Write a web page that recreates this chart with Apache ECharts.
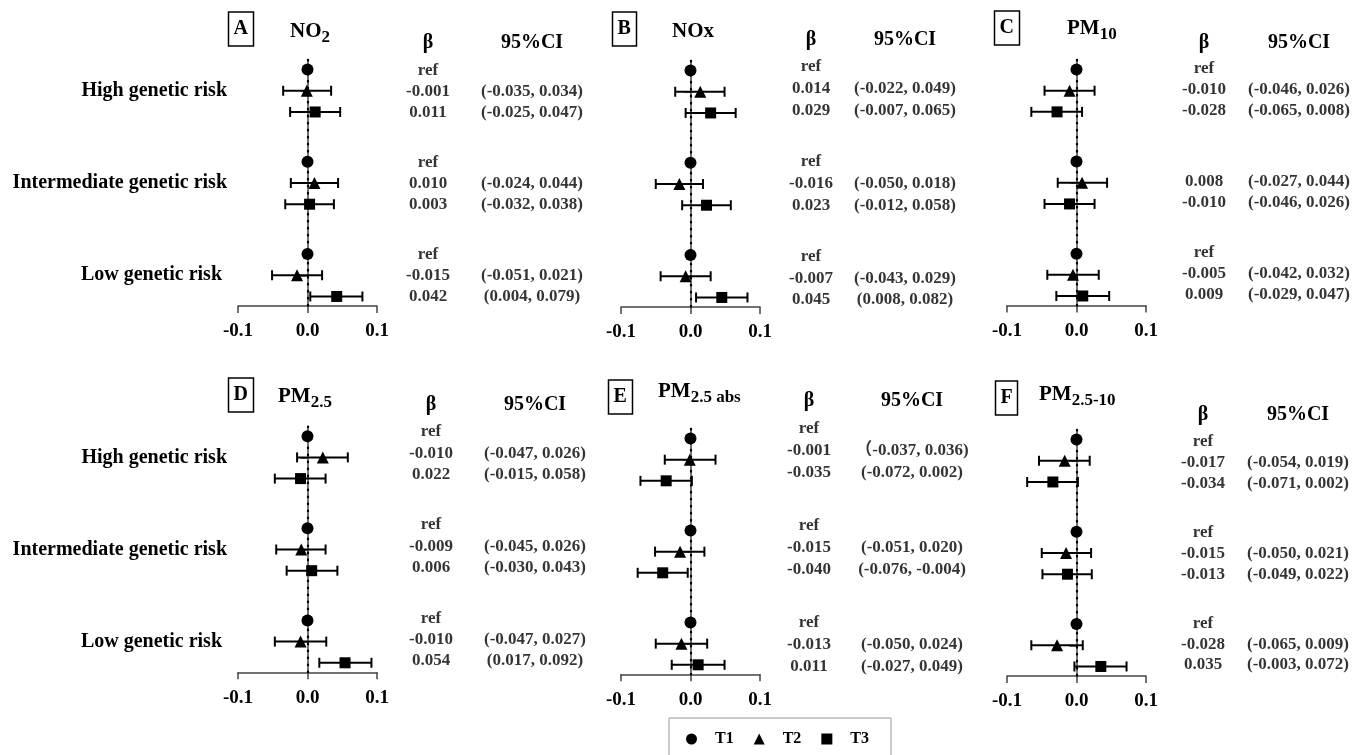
<!DOCTYPE html>
<html>
<head>
<meta charset="utf-8">
<title>Forest plots</title>
<script src="https://cdn.jsdelivr.net/npm/echarts@6/dist/echarts.min.js"></script>
<style>
  html, body { margin: 0; padding: 0; background: #fff; }
  #chart { width: 1365px; height: 755px; }
</style>
</head>
<body>
<div id="chart"></div>
<script>
// ---- data, panels in order A..F ----
const groups = ['High genetic risk', 'Intermediate genetic risk', 'Low genetic risk ']
const letters = ['A', 'B', 'C', 'D', 'E', 'F']
const pollutants = [['NO', '2'], ['NOx', ''], ['PM', '10'], ['PM', '2.5'], ['PM', '2.5 abs'], ['PM', '2.5-10']]
const seriesNames = ['T1', 'T2', 'T3']

// T1 is the reference tertile in every group
const t1Est = [0, 0, 0]

// values per panel, groups High / Intermediate / Low
const t2Est = [
  [-0.001, 0.010, -0.015], [0.014, -0.016, -0.007], [-0.010, 0.008, -0.005],
  [0.022, -0.009, -0.010], [-0.001, -0.015, -0.013], [-0.017, -0.015, -0.028]
]
const t2Lo = [
  [-0.035, -0.024, -0.051], [-0.022, -0.050, -0.043], [-0.046, -0.027, -0.042],
  [-0.015, -0.045, -0.047], [-0.037, -0.051, -0.050], [-0.054, -0.050, -0.065]
]
const t2Hi = [
  [0.034, 0.044, 0.021], [0.049, 0.018, 0.029], [0.026, 0.044, 0.032],
  [0.058, 0.026, 0.027], [0.036, 0.020, 0.024], [0.019, 0.021, 0.009]
]
const t3Est = [
  [0.011, 0.003, 0.042], [0.029, 0.023, 0.045], [-0.028, -0.010, 0.009],
  [-0.010, 0.006, 0.054], [-0.035, -0.040, 0.011], [-0.034, -0.013, 0.035]
]
const t3Lo = [
  [-0.025, -0.032, 0.004], [-0.007, -0.012, 0.008], [-0.065, -0.046, -0.029],
  [-0.047, -0.030, 0.017], [-0.072, -0.076, -0.027], [-0.071, -0.049, -0.003]
]
const t3Hi = [
  [0.047, 0.038, 0.079], [0.065, 0.058, 0.082], [0.008, 0.026, 0.047],
  [0.026, 0.043, 0.092], [0.002, -0.004, 0.049], [0.002, 0.022, 0.072]
]

// printed table, 9 rows per panel (T1, T2, T3 for each group)
const tableHeads = ['β', '95%CI']
const betaText = [
  ['ref', '-0.001', '0.011', 'ref', '0.010', '0.003', 'ref', '-0.015', '0.042'],
  ['ref', '0.014', '0.029', 'ref', '-0.016', '0.023', 'ref', '-0.007', '0.045'],
  ['ref', '-0.010', '-0.028', '', '0.008', '-0.010', 'ref', '-0.005', '0.009'],
  ['ref', '-0.010', '0.022', 'ref', '-0.009', '0.006', 'ref', '-0.010', '0.054'],
  ['ref', '-0.001', '-0.035', 'ref', '-0.015', '-0.040', 'ref', '-0.013', '0.011'],
  ['ref', '-0.017', '-0.034', 'ref', '-0.015', '-0.013', 'ref', '-0.028', '0.035']
]
const ciText = [
  ['', '(-0.035, 0.034)', '(-0.025, 0.047)', '', '(-0.024, 0.044)', '(-0.032, 0.038)', '', '(-0.051, 0.021)', '(0.004, 0.079)'],
  ['', '(-0.022, 0.049)', '(-0.007, 0.065)', '', '(-0.050, 0.018)', '(-0.012, 0.058)', '', '(-0.043, 0.029)', '(0.008, 0.082)'],
  ['', '(-0.046, 0.026)', '(-0.065, 0.008)', '', '(-0.027, 0.044)', '(-0.046, 0.026)', '', '(-0.042, 0.032)', '(-0.029, 0.047)'],
  ['', '(-0.047, 0.026)', '(-0.015, 0.058)', '', '(-0.045, 0.026)', '(-0.030, 0.043)', '', '(-0.047, 0.027)', '(0.017, 0.092)'],
  ['', '（-0.037, 0.036)', '(-0.072, 0.002)', '', '(-0.051, 0.020)', '(-0.076, -0.004)', '', '(-0.050, 0.024)', '(-0.027, 0.049)'],
  ['', '(-0.054, 0.019)', '(-0.071, 0.002)', '', '(-0.050, 0.021)', '(-0.049, 0.022)', '', '(-0.065, 0.009)', '(-0.003, 0.072)']
]
const xTicks = [-0.1, 0, 0.1]

// ---- layout ----
const FONT = '"Liberation Serif", "Noto Sans CJK SC", serif'
const AXIS_COLOR = '#444'
const Y_MIN = 2 / 3
const Y_MAX = 10 / 3
const OFF = 0.23 // vertical offset of T1 / T3 rows around the group tick

// plot box, letter box, title, table columns per panel
const panels = [
  { left: 238, top: 60, bottom: 306, box: [228, 12], title: [290, 21], beta: 428, ci: 532, first: 70.7, last: 296.7, head: 43 },
  { left: 621, top: 61, bottom: 307, box: [612, 12], title: [672, 21], beta: 811, ci: 905, first: 66.7, last: 300, head: 40 },
  { left: 1007, top: 60, bottom: 305.5, box: [994, 11], title: [1067, 18], beta: 1204, ci: 1299, first: 68.3, last: 295, head: 43 },
  { left: 238, top: 426.7, bottom: 672.3, box: [228, 378], title: [278, 386], beta: 431, ci: 535, first: 431.7, last: 661, head: 405 },
  { left: 621, top: 429, bottom: 674.3, box: [608, 380], title: [658, 381], beta: 809, ci: 912, first: 428.3, last: 666.7, head: 401 },
  { left: 1007, top: 430, bottom: 676, box: [995, 381], title: [1039, 384], beta: 1203, ci: 1298, first: 441.7, last: 665, head: 415 }
]
const PLOT_W = 139

const chart = echarts.init(document.getElementById('chart'))

// error bar with end caps
function renderBar (params, api) {
  const y = api.value(0)
  const a = api.coord([api.value(1), y])
  const b = api.coord([api.value(2), y])
  const h = 5
  const style = { stroke: '#000', lineWidth: 2, fill: null }
  return {
    type: 'group',
    children: [
      { type: 'line', shape: { x1: a[0], y1: a[1], x2: b[0], y2: b[1] }, style },
      { type: 'line', shape: { x1: a[0], y1: a[1] - h, x2: a[0], y2: a[1] + h }, style },
      { type: 'line', shape: { x1: b[0], y1: b[1] - h, x2: b[0], y2: b[1] + h }, style }
    ]
  }
}

const grid = []
const xAxis = []
const yAxis = []
const series = []
const title = []

panels.forEach((p, i) => {
  const showY = i % 3 === 0
  const rowY = (g, k) => g + 1 + (k - 1) * OFF

  // forest plot grid
  grid.push({ left: p.left, top: p.top, width: PLOT_W, height: p.bottom - p.top })
  xAxis.push({
    gridIndex: 2 * i,
    type: 'value',
    min: xTicks[0],
    max: xTicks[2],
    interval: 0.1,
    splitLine: { show: false },
    axisLine: { lineStyle: { color: AXIS_COLOR, width: 1.5 } },
    axisTick: { length: 7, lineStyle: { color: AXIS_COLOR, width: 1.5 } },
    axisLabel: {
      margin: 16,
      color: '#000',
      fontFamily: FONT,
      fontWeight: 'bold',
      fontSize: 19,
      formatter: v => v.toFixed(1)
    }
  })
  yAxis.push({
    gridIndex: 2 * i,
    type: 'value',
    inverse: true,
    min: Y_MIN,
    max: Y_MAX,
    splitLine: { show: false },
    axisLine: { show: true, lineStyle: { color: AXIS_COLOR, width: 1.5 } },
    axisTick: { show: true, length: 7, customValues: [1, 2, 3], lineStyle: { color: AXIS_COLOR, width: 1.5 } },
    axisLabel: {
      show: showY,
      customValues: [1, 2, 3],
      margin: 11,
      color: '#000',
      fontFamily: FONT,
      fontWeight: 'bold',
      fontSize: 20,
      formatter: v => groups[Math.round(v) - 1]
    }
  })

  // table grid, same row units as the plot
  const d = p.ci - p.beta
  const ppu = (p.last - p.first) / (2 * (1 + OFF))
  const tTop = p.first - (1 - OFF - Y_MIN) * ppu
  grid.push({ left: p.beta - d / 2, top: tTop, width: 2 * d, height: (Y_MAX - Y_MIN) * ppu })
  xAxis.push({
    gridIndex: 2 * i + 1,
    type: 'category',
    position: 'top',
    data: tableHeads,
    axisLine: { show: false },
    axisTick: { show: false },
    axisLabel: {
      margin: tTop - p.head - 10,
      color: '#000',
      fontFamily: FONT,
      fontWeight: 'bold',
      fontSize: 20
    }
  })
  yAxis.push({ gridIndex: 2 * i + 1, type: 'value', inverse: true, min: Y_MIN, max: Y_MAX, show: false })

  const ax = { xAxisIndex: 2 * i, yAxisIndex: 2 * i }
  const est = [t1Est, t2Est[i], t3Est[i]]
  const lo = [null, t2Lo[i], t3Lo[i]]
  const hi = [null, t2Hi[i], t3Hi[i]]
  const symbols = [['circle', 12], ['triangle', 12], ['rect', 11]]

  seriesNames.forEach((name, k) => {
    if (k > 0) {
      series.push({
        ...ax,
        name: name + ' CI',
        type: 'custom',
        z: 2,
        renderItem: renderBar,
        encode: { x: [1, 2], y: 0 },
        data: groups.map((g, gi) => [rowY(gi, k), lo[k][gi], hi[k][gi]])
      })
    }
    const s = {
      ...ax,
      name,
      type: 'scatter',
      z: 3,
      symbol: symbols[k][0],
      symbolSize: symbols[k][1],
      itemStyle: { color: '#000', opacity: 1 },
      data: groups.map((g, gi) => [est[k][gi], rowY(gi, k)])
    }
    if (k === 0) {
      // dotted null line at 0
      s.markLine = {
        silent: true,
        symbol: 'none',
        label: { show: false },
        lineStyle: { color: '#000', width: 2.3, type: [0.5, 6.5], cap: 'round' },
        data: [{ xAxis: 0 }]
      }
    }
    series.push(s)
  })

  // table text
  const cells = []
  for (let r = 0; r < 9; r++) {
    const y = rowY(Math.floor(r / 3), r % 3)
    if (betaText[i][r]) cells.push([0, y, betaText[i][r]])
    if (ciText[i][r]) cells.push([1, y, ciText[i][r]])
  }
  series.push({
    xAxisIndex: 2 * i + 1,
    yAxisIndex: 2 * i + 1,
    name: 'table',
    type: 'scatter',
    silent: true,
    symbolSize: 1,
    itemStyle: { color: 'rgba(0,0,0,0)' },
    label: {
      show: true,
      position: 'inside',
      color: '#000',
      fontFamily: FONT,
      fontWeight: 'bold',
      fontSize: 17,
      formatter: q => q.data[2]
    },
    data: cells
  })

  // letter box and pollutant name
  title.push({
    text: letters[i],
    left: p.box[0],
    top: p.box[1],
    padding: [7, 5.5],
    borderColor: '#000',
    borderWidth: 1.5,
    textStyle: { fontFamily: FONT, fontWeight: 'bold', fontSize: 20, color: '#000' }
  })
  const pol = pollutants[i]
  title.push({
    text: '{m|' + pol[0] + '}' + (pol[1] ? '{s|' + pol[1] + '}' : ''),
    left: p.title[0],
    top: p.title[1],
    padding: 0,
    textStyle: {
      rich: {
        m: { fontFamily: FONT, fontWeight: 'bold', fontSize: 21, color: '#000', verticalAlign: 'top' },
        s: { fontFamily: FONT, fontWeight: 'bold', fontSize: 17, color: '#000', lineHeight: 34 }
      }
    }
  })
})

chart.setOption({
  animation: false,
  backgroundColor: '#fff',
  title,
  legend: {
    data: seriesNames,
    selectedMode: false,
    left: 669,
    top: 718,
    itemWidth: 11,
    itemHeight: 11,
    itemGap: 20,
    padding: [13, 22, 14, 17],
    borderColor: '#999',
    borderWidth: 1,
    textStyle: { fontFamily: FONT, fontWeight: 'bold', fontSize: 16, color: '#000', padding: [0, 0, 0, 13] }
  },
  grid,
  xAxis,
  yAxis,
  series
})
</script>
</body>
</html>
